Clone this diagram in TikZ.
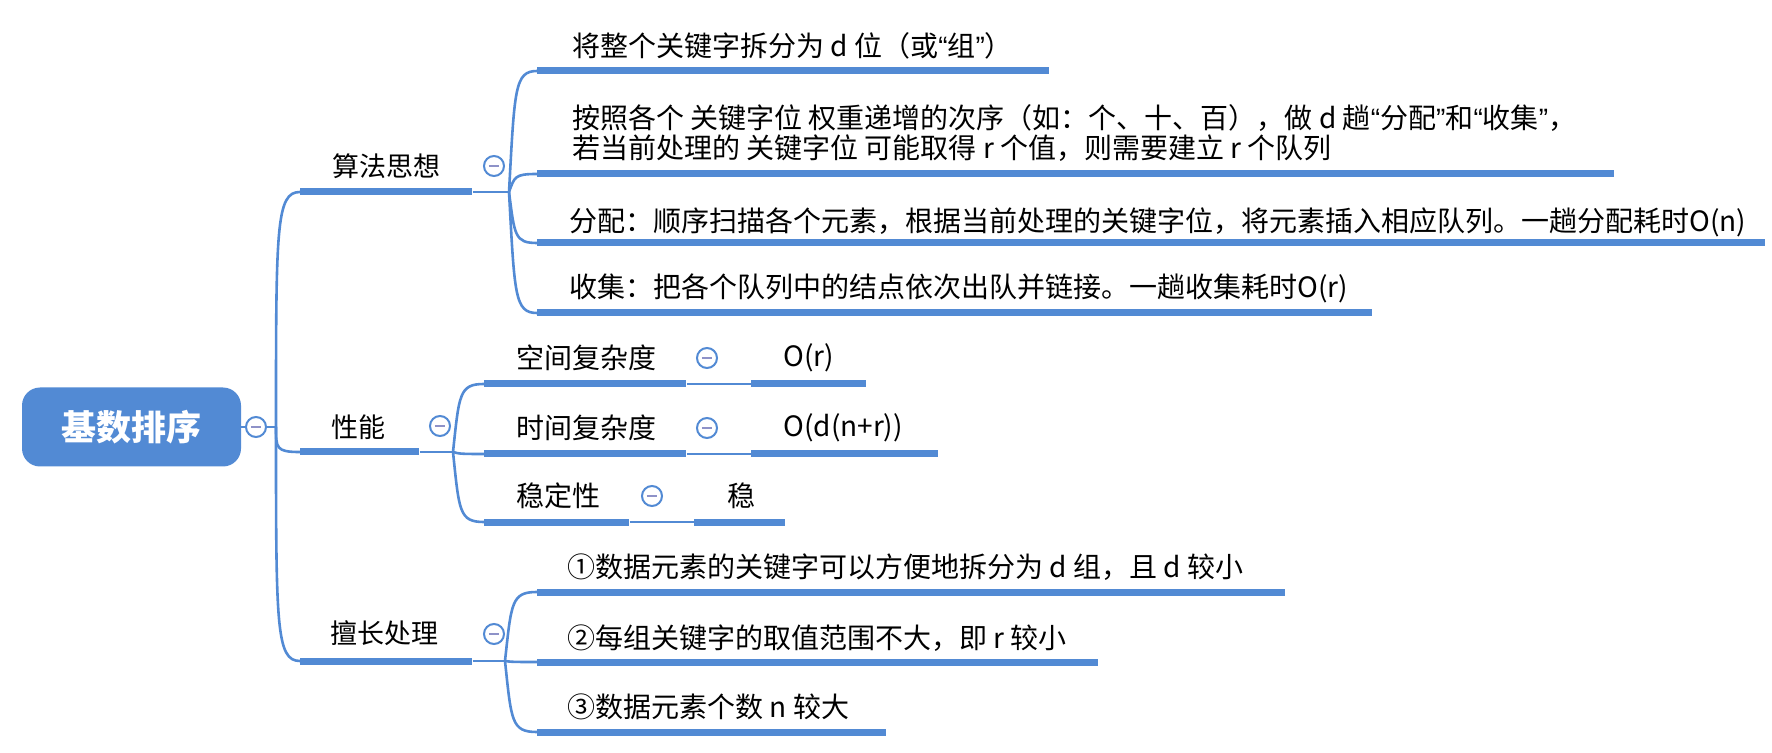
\documentclass[tikz,border=0pt]{standalone}
\usepackage{fontspec}
\setmainfont{Noto Sans CJK SC}
\newfontfamily\latinq{Liberation Sans}
\usetikzlibrary{calc}
\definecolor{mmBlue}{HTML}{528AD4}
\definecolor{mmLav}{HTML}{8E92C8}
\newcommand{\qq}[1]{{\latinq “}#1{\latinq ”}}

\begin{document}
\begin{tikzpicture}[x=0.5pt, y=-0.5pt,
  rootbox/.style={fill=mmBlue, rounded corners=9pt, minimum width=109.5pt, minimum height=39.5pt, inner sep=0, text=white, font=\fontsize{17.5pt}{20pt}\selectfont\bfseries},
  topicbar/.style={fill=mmBlue, inner sep=0, minimum height=3.5pt, minimum width=#1, anchor=west},
  maintext/.style={inner sep=0, font=\fontsize{13.5pt}{15pt}\selectfont},
  subtext/.style={inner sep=0, anchor=west, align=left, font=\fontsize{14pt}{15pt}\selectfont},
  foldmark/.style={circle, draw=mmBlue, line width=1pt, fill=white, minimum size=10pt, inner sep=0,
    path picture={\draw[mmLav, line width=1.3pt] ([xshift=-2.6pt]path picture bounding box.center) -- ([xshift=2.6pt]path picture bounding box.center);}},
  link/.style={mmBlue, line width=1.3pt}]
  \useasboundingbox (0,0) rectangle (1772,753);
  % curved link: runs out from the fork, then bends into the bar
  \newcommand{\mmcurve}[3][0.2]{\draw[link] let \p1=(#2), \p2=(#3) in (\p1) .. controls ({\x1+#1*(\x2-\x1)}, {\y1+0.85*(\y2-\y1)}) and ({\x1+#1*(\x2-\x1)}, \y2) .. (\p2);}
  % root
  \node[rootbox] (root) at (131.5,427) {基数排序};
  \node[foldmark] (root-f) at (256,427) {};
  \coordinate (trunk) at (276,427);
  \draw[link] (root.east) -- (root-f.west);
  \draw[link] (root-f.east) -- (trunk);
  % first level
  \node[topicbar=86pt] (alg) at (300,192) {};
  \node[topicbar=59.5pt] (perf) at (300,452) {};
  \node[topicbar=86pt] (good) at (300,661) {};
  \node[maintext] (alg-t) at (386,166) {算法思想};
  \node[maintext] (perf-t) at (358,427) {性能};
  \node[maintext] (good-t) at (384,633) {擅长处理};
  \node[foldmark] (alg-f) at (494,166) {};
  \node[foldmark] (perf-f) at (440,426) {};
  \node[foldmark] (good-f) at (494,634) {};
  \mmcurve[0]{trunk}{alg.west}
  \mmcurve[0]{trunk}{perf.west}
  \mmcurve[0]{trunk}{good.west}
  % algorithm idea
  \coordinate (alg-bp) at (509,192);
  \draw[link] (alg.east) -- (alg-bp);
  \node[topicbar=256pt] (a1) at (537,71) {};
  \node[topicbar=538.5pt] (a2) at (537,174) {};
  \node[topicbar=614pt] (a3) at (537,243) {};
  \node[topicbar=417.5pt] (a4) at (537,313) {};
  \node[subtext] (a1-t) at (572,46) {将整个关键字拆分为 d 位（或\qq{组}）};
  \node[subtext] (a2-t) at (572,133) {按照各个 关键字位 权重递增的次序（如：个、十、百），做 d 趟\qq{分配}和\qq{收集}，\\若当前处理的 关键字位 可能取得 r 个值，则需要建立 r 个队列};
  \node[subtext] (a3-t) at (569,222) {分配：顺序扫描各个元素，根据当前处理的关键字位，将元素插入相应队列。一趟分配耗时O(n)};
  \node[subtext] (a4-t) at (569,288) {收集：把各个队列中的结点依次出队并链接。一趟收集耗时O(r)};
  \foreach \k in {a1,a2,a3,a4} {\mmcurve{alg-bp}{\k.west}}
  % performance
  \coordinate (perf-bp) at (453,452);
  \draw[link] (perf.east) -- (perf-bp);
  \node[topicbar=101pt] (p1) at (484,384) {};
  \node[topicbar=101pt] (p2) at (484,454) {};
  \node[topicbar=72.5pt] (p3) at (484,522) {};
  \node[subtext] (p1-t) at (516,358) {空间复杂度};
  \node[subtext] (p2-t) at (516,428) {时间复杂度};
  \node[subtext] (p3-t) at (516,496) {稳定性};
  \node[foldmark] (p1-f) at (707,358) {};
  \node[foldmark] (p2-f) at (707,428) {};
  \node[foldmark] (p3-f) at (652,496) {};
  \foreach \k in {p1,p2,p3} {\mmcurve{perf-bp}{\k.west}}
  \node[topicbar=57.5pt] (or) at (751,384) {};
  \node[topicbar=93.5pt] (odnr) at (751,454) {};
  \node[topicbar=45.5pt] (st) at (694,522) {};
  \node[subtext] (or-t) at (783,358) {O(r)};
  \node[subtext] (odnr-t) at (783,428) {O(d(n+r))};
  \node[subtext] (st-t) at (727,496) {稳};
  \draw[link] (p1.east) -- (or.west);
  \draw[link] (p2.east) -- (odnr.west);
  \draw[link] (p3.east) -- (st.west);
  % good at
  \coordinate (good-bp) at (505,661);
  \draw[link] (good.east) -- (good-bp);
  \node[topicbar=374pt] (g1) at (537,592) {};
  \node[topicbar=280.5pt] (g2) at (537,662) {};
  \node[topicbar=174.5pt] (g3) at (537,732) {};
  \node[subtext] (g1-t) at (567,567) {①数据元素的关键字可以方便地拆分为 d 组，且 d 较小};
  \node[subtext] (g2-t) at (567,638) {②每组关键字的取值范围不大，即 r 较小};
  \node[subtext] (g3-t) at (567,707) {③数据元素个数 n 较大};
  \foreach \k in {g1,g2,g3} {\mmcurve{good-bp}{\k.west}}
\end{tikzpicture}
\end{document}
